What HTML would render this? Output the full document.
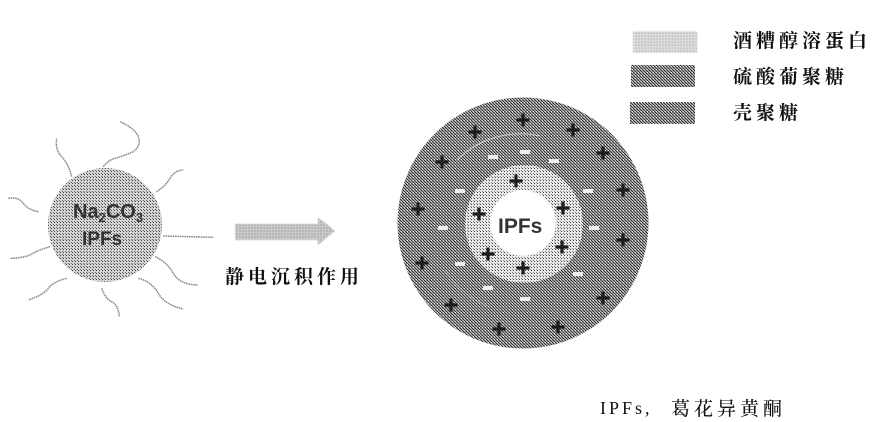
<!DOCTYPE html>
<html><head><meta charset="utf-8"><style>
html,body{margin:0;padding:0;background:#fff;width:891px;height:422px;overflow:hidden}
svg{display:block}
.cjk{font-family:"Liberation Serif","Noto Serif CJK SC",serif;font-size:19px;letter-spacing:4px;fill:#111;font-weight:700}
.lat{font-family:"Liberation Sans",sans-serif;font-weight:bold;fill:#333}
</style></head><body>
<svg width="891" height="422" viewBox="0 0 891 422" xmlns="http://www.w3.org/2000/svg">
<defs>
<pattern id="dark" width="3" height="3" patternUnits="userSpaceOnUse"><rect width="3" height="3" fill="#a0a0a0"/><rect width="1" height="1" fill="#333"/><rect x="1" y="1" width="1" height="1" fill="#333"/><rect x="2" y="2" width="1" height="1" fill="#333"/><rect x="2" width="1" height="1" fill="#ddd"/></pattern>
<pattern id="dots" width="3" height="3" patternUnits="userSpaceOnUse"><rect width="3" height="3" fill="#d4d4d4"/><rect width="1" height="1" fill="#444"/><rect x="2" y="2" width="1" height="1" fill="#666"/></pattern>
<pattern id="light" width="3" height="3" patternUnits="userSpaceOnUse"><rect width="3" height="3" fill="#e8e8e8"/><rect width="1" height="1" fill="#444"/><rect x="2" y="2" width="1" height="1" fill="#888"/></pattern>
<filter id="b"><feGaussianBlur stdDeviation="0.5"/></filter>
<g id="p"><path d="M-6.500 0H6.500M0-6.500V6.500" stroke="#1c1c1c" stroke-width="3.200" fill="none"/></g>
<rect id="m" x="-5" y="-2" width="10" height="4" fill="#eee"/>
</defs>

<g transform="translate(0,110) scale(.3333)" fill="none" stroke="#8a8a8a" stroke-width="4.500" stroke-dasharray="5 2" filter="url(#b)">
<path d="M310 170Q325 150 345 145T400 125Q425 105 415 80T360 35"/>
<path d="M215 200Q205 160 185 140T170 85"/>
<path d="M470 245Q495 230 510 205T550 180"/>
<path d="M115 305Q85 300 70 280T25 265"/>
<path d="M490 378L640 382"/>
<path d="M150 410Q115 420 95 432T30 445"/>
<path d="M465 440Q500 455 520 490T595 525"/>
<path d="M415 505Q455 515 475 550T550 597"/>
<path d="M305 535Q315 565 335 575T358 620"/>
<path d="M200 505Q160 515 145 535T85 570"/>
</g>
<circle cx="105" cy="225" r="57" fill="url(#dots)"/>
<text class="lat" x="73" y="218" font-size="20">Na<tspan font-size="13" dy="4">2</tspan><tspan dy="-4">CO</tspan><tspan font-size="13" dy="4">3</tspan></text>
<text class="lat" x="82" y="245" font-size="19">IPFs</text>

<path d="M235 224H318V217L335 231L318 245V240H235Z" fill="url(#dots)" filter="url(#b)"/>
<text class="cjk" x="225" y="283">静电沉积作用</text>

<circle cx="523" cy="223" r="125.500" fill="url(#dark)"/>
<path d="M457 160A90 90 0 0 1 540 136" fill="none" stroke="#eee" stroke-width="1" opacity=".7"/>
<path d="M445 270A90 90 0 0 0 490 307" fill="none" stroke="#ddd" stroke-width="1" opacity=".4"/>
<circle cx="524" cy="224" r="59" fill="url(#light)"/>
<circle cx="523" cy="223" r="33" fill="#fff" filter="url(#b)"/>
<text class="lat" x="498" y="233" font-size="21" fill="#444">IPFs</text>

<g>
<use href="#p" x="523" y="120"/><use href="#p" x="475" y="132"/><use href="#p" x="573" y="130"/><use href="#p" x="603" y="153"/><use href="#p" x="442" y="162"/><use href="#p" x="623" y="190"/><use href="#p" x="418" y="209"/><use href="#p" x="623" y="240"/><use href="#p" x="422" y="263"/><use href="#p" x="603" y="298"/><use href="#p" x="451" y="305"/><use href="#p" x="558" y="327"/><use href="#p" x="499" y="329"/>
<use href="#p" x="516" y="181"/><use href="#p" x="563" y="208"/><use href="#p" x="479" y="214"/><use href="#p" x="562" y="247"/><use href="#p" x="488" y="254"/><use href="#p" x="523" y="268"/>
<use href="#m" x="525" y="152"/><use href="#m" x="493" y="157"/><use href="#m" x="554" y="161"/><use href="#m" x="460" y="191"/><use href="#m" x="588" y="191"/><use href="#m" x="443" y="228"/><use href="#m" x="594" y="228"/><use href="#m" x="460" y="264"/><use href="#m" x="578" y="274"/><use href="#m" x="488" y="288"/><use href="#m" x="525" y="299"/>
</g>

<rect x="633" y="31" width="64" height="22" fill="url(#light)" filter="url(#b)"/>
<rect x="631" y="65" width="64" height="22" fill="url(#dark)"/>
<rect x="630" y="102" width="65" height="22" fill="url(#dark)"/>
<text class="cjk" x="733" y="47">酒糟醇溶蛋白</text>
<text class="cjk" x="733" y="83">硫酸葡聚糖</text>
<text class="cjk" x="733" y="119">壳聚糖</text>
<text class="cjk" x="600" y="414" style="font-size:18px;letter-spacing:3px;font-weight:500">IPFs,</text>
<text class="cjk" x="671" y="415" style="font-size:19px;letter-spacing:4px;font-weight:500">葛花异黄酮</text>
</svg>
</body></html>
